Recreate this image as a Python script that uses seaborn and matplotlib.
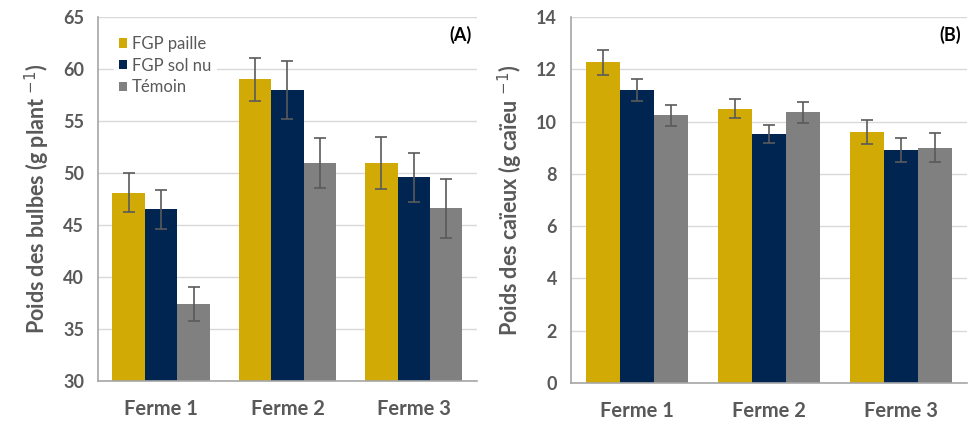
import numpy as np
import pandas as pd
import seaborn as sns
from matplotlib import pyplot as plt
from matplotlib.patches import Patch

# values
farms = ["Ferme 1", "Ferme 2", "Ferme 3"]
treatments = ["FGP paille", "FGP sol nu", "Témoin"]

bulbes_paille = [48.1, 59.0, 51.0]
bulbes_solnu = [46.5, 58.0, 49.6]
bulbes_temoin = [37.4, 51.0, 46.6]
bulbes_err_paille = [1.9, 2.05, 2.5]
bulbes_err_solnu = [1.9, 2.8, 2.35]
bulbes_err_temoin = [1.6, 2.4, 2.85]

caieux_paille = [12.28, 10.49, 9.59]
caieux_solnu = [11.21, 9.53, 8.93]
caieux_temoin = [10.25, 10.36, 9.0]
caieux_err_paille = [0.48, 0.36, 0.46]
caieux_err_solnu = [0.41, 0.33, 0.46]
caieux_err_temoin = [0.4, 0.4, 0.56]

colors = ["#D1AA05", "#002550", "#808080"]
txt = "#595959"


def make_df(vals, errs):
    rows = []
    for t, v, e in zip(treatments, vals, errs):
        for f, vv, ee in zip(farms, v, e):
            rows.append({"Ferme": f, "Traitement": t, "val": vv, "err": ee})
    return pd.DataFrame(rows)


def draw(ax, df, ylim, yticks, ylabel, tag, legend=False):
    sns.barplot(data=df, x="Ferme", y="val", hue="Traitement", order=farms,
                hue_order=treatments, palette=colors, width=0.77,
                errorbar=None, saturation=1, linewidth=0, ax=ax, legend=False,
                zorder=2)
    # error bars at bar centers (patches ordered by hue then category)
    for p, (_, r) in zip(ax.patches, df.iterrows()):
        xc = p.get_x() + p.get_width() / 2
        ax.errorbar(xc, r["val"], yerr=r["err"], color="#5a5a5a", lw=1.2,
                    capsize=4, capthick=1.2, zorder=3)
    ax.set_ylim(*ylim)
    ax.set_xlim(-0.5, 2.5)
    ax.set_yticks(yticks)
    ax.set_yticklabels([str(v) for v in yticks], fontsize=13,
                       fontweight="bold", color=txt)
    ax.set_xticks(range(3))
    ax.set_xticklabels(farms, fontsize=14.5, fontweight="bold", color=txt)
    ax.set_xticks([-0.5, 0.5, 1.5, 2.5], minor=True)
    ax.tick_params(axis="x", which="major", length=0, pad=13)
    ax.tick_params(axis="x", which="minor", length=6, color="#a6a6a6", width=1.2)
    ax.tick_params(axis="y", length=0, pad=10)
    ax.set_xlabel("")
    ax.set_ylabel(ylabel, fontsize=15.5, fontweight="bold", color=txt, labelpad=8)
    ax.yaxis.grid(True, color="#d9d9d9", lw=1, zorder=0)
    ax.xaxis.grid(False)
    ax.set_axisbelow(True)
    for s in ["top", "right"]:
        ax.spines[s].set_visible(False)
    for s in ["left", "bottom"]:
        ax.spines[s].set_color("#a6a6a6")
        ax.spines[s].set_linewidth(1.2)
    ax.text(0.985, 0.975, tag, transform=ax.transAxes, ha="right", va="top",
            fontsize=13, fontweight="bold", color="black")
    if legend:
        handles = [Patch(facecolor=c, edgecolor="none", label=t)
                   for c, t in zip(colors, treatments)]
        leg = ax.legend(handles=handles, loc="upper left",
                        bbox_to_anchor=(0.02, 0.985), handlelength=0.5,
                        handleheight=0.5, handletextpad=0.3,
                        labelspacing=0.35, borderpad=0.3, fontsize=12,
                        frameon=True, facecolor="white", edgecolor="none",
                        framealpha=1, fancybox=False)
        for t in leg.get_texts():
            t.set_color(txt)


sns.set_theme(style="white")
plt.rcParams["font.family"] = ["Lato", "DejaVu Sans"]

fig = plt.figure(figsize=(9.68, 4.22), dpi=100)
ax1 = fig.add_axes([0.1012, 0.0972, 0.3915, 0.8626])
ax2 = fig.add_axes([0.5899, 0.0924, 0.409, 0.867])

df_a = make_df([bulbes_paille, bulbes_solnu, bulbes_temoin],
               [bulbes_err_paille, bulbes_err_solnu, bulbes_err_temoin])
df_b = make_df([caieux_paille, caieux_solnu, caieux_temoin],
               [caieux_err_paille, caieux_err_solnu, caieux_err_temoin])

draw(ax1, df_a, (30, 65), list(range(30, 66, 5)),
     "Poids des bulbes (g plant $^{-1}$)", "(A)", legend=True)
draw(ax2, df_b, (0, 14), list(range(0, 15, 2)),
     "Poids des caïeux (g caïeu $^{-1}$)", "(B)")

fig.savefig("out.png", dpi=100)
